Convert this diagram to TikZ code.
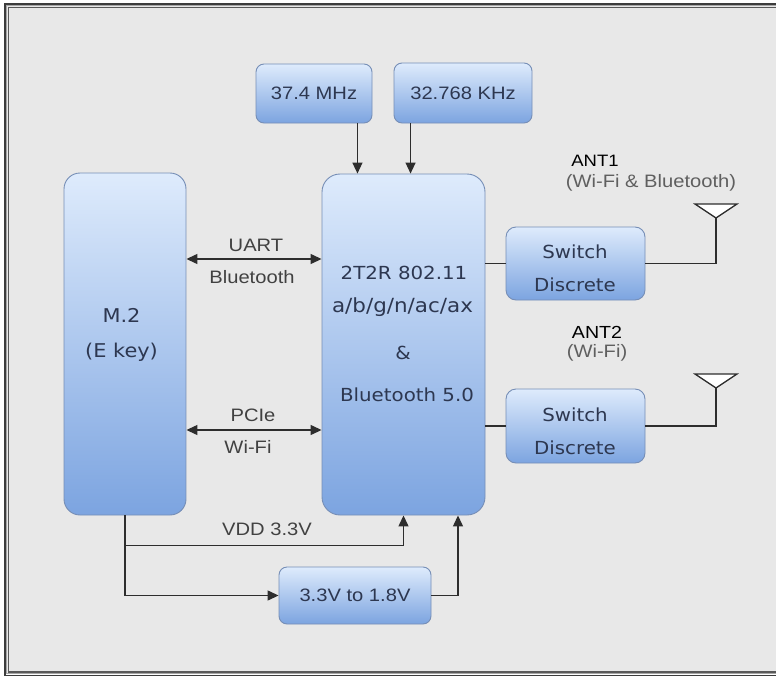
\documentclass[tikz,border=0pt]{standalone}
\usepackage{fontspec}
\newfontfamily\labf[FakeStretch=1.12]{Liberation Sans}
\newfontfamily\boxff[FakeStretch=1.1]{DejaVu Sans}
\usetikzlibrary{arrows.meta}
\definecolor{bg}{RGB}{232,232,232}
\definecolor{btop}{RGB}{222,235,252}
\definecolor{bbot}{RGB}{124,164,224}
\definecolor{bdraw}{RGB}{118,142,182}
\definecolor{btext}{RGB}{45,55,80}
\definecolor{ltext}{RGB}{65,65,65}
\definecolor{ptext}{RGB}{95,95,95}
\definecolor{framec}{RGB}{60,60,60}
\definecolor{linec}{RGB}{45,45,45}
\begin{document}
\begin{tikzpicture}[x=1pt,y=-1pt,
  blk/.style={draw=bdraw, line width=0.9pt, top color=btop, bottom color=bbot, rounded corners=#1, inner sep=0pt},
  blk/.default=8pt,
  boxtxt/.style={font=\boxff\fontsize{18}{33}\selectfont, text=btext, align=center, inner sep=0pt},
  lab/.style={font=\labf\fontsize{18}{22}\selectfont, text=ltext, inner sep=0pt},
  conn/.style={line width=1.3pt, draw=linec},
  arr/.style={conn, -{Triangle[length=11pt,width=10pt]}},
  darr/.style={conn, {Triangle[length=11pt,width=10pt]}-{Triangle[length=11pt,width=10pt]}},
]
\useasboundingbox (0,0) rectangle (776,677);
% background and frame
\fill[white] (0,0) rectangle (776,677);
\fill[bg] (5,5) rectangle (776,674);
\draw[framec, line width=1.6pt] (776,3.8) -- (5,3.8) -- (5,675.6) -- (776,675.6);
\draw[black!35, line width=1.2pt] (776,5.8) -- (6.8,5.8) -- (6.8,673.8) -- (776,673.8);
\draw[framec!85, line width=1.2pt] (776,7.6) -- (8.4,7.6) -- (8.4,672) -- (776,672);

% blocks
\node[blk=8pt, minimum width=116pt, minimum height=59pt] (f1) at (314,93.5) {};
\node[blk=8pt, minimum width=138pt, minimum height=60pt] (f2) at (463,93) {};
\node[blk=18pt, minimum width=163pt, minimum height=341pt] (main) at (403.5,344.5) {};
\node[blk=16pt, minimum width=122pt, minimum height=342pt] (m2) at (125,344) {};
\node[blk=10pt, minimum width=139pt, minimum height=73pt] (sw1) at (575.5,263.5) {};
\node[blk=10pt, minimum width=139pt, minimum height=74pt] (sw2) at (575.5,426) {};
\node[blk=8pt, minimum width=152pt, minimum height=57pt] (reg) at (355,595.5) {};

% block texts
\node[lab, text=btext] (f1t) at (f1) {37.4 MHz};
\node[lab, text=btext] (f2t) at (f2) {32.768 KHz};
\node[lab, text=btext] (regt) at (reg) {3.3V to 1.8V};
\node[boxtxt] (sw1t) at (575,268.5) {Switch\\Discrete};
\node[boxtxt] (sw2t) at (575,431) {Switch\\Discrete};
\node[boxtxt, font=\boxff\fontsize{19}{35}\selectfont] (m2t) at (121.5,334.5) {M.2\\(E key)};
\node[boxtxt] (mt1) at (404,273) {2T2R 802.11};
\node[boxtxt, font=\boxff\fontsize{19.5}{24}\selectfont] (mt2) at (402.5,307) {a/b/g/n/ac/ax};
\node[boxtxt] (mt3) at (403,353) {\&};
\node[boxtxt] (mt4) at (407,395) {Bluetooth 5.0};

% clock arrows
\draw[arr] ([xshift=-15pt]f1.south east) -- ([xshift=-15pt]f1.south east |- main.north);
\draw[arr] ([xshift=17pt]f2.south west) -- ([xshift=17pt]f2.south west |- main.north);

% host interfaces
\draw[darr] ([yshift=85pt]m2.east) -- ([yshift=85pt]m2.east -| main.west);
\draw[darr] ([yshift=-86pt]m2.east) -- ([yshift=-86pt]m2.east -| main.west);
\node[lab] (uart) at (256,245) {UART};
\node[lab] (btl) at (252,277) {Bluetooth};
\node[lab] (pcie) at (253,415) {PCIe};
\node[lab] (wifil) at (248,447) {Wi-Fi};

% RF paths
\coordinate (a1) at (716,218);
\coordinate (a2) at (716,388);
\draw[conn] (main.east |- sw1.west) -- (sw1.west);
\draw[conn] (main.east |- sw2.west) -- (sw2.west);
\draw[conn] (sw1.east) -| (a1);
\draw[conn] (sw2.east) -| (a2);
\draw[conn, fill=white, line join=miter] (695,204) -- (737,204) -- (a1) -- cycle;
\draw[conn, fill=white, line join=miter] (695,374) -- (737,374) -- (a2) -- cycle;
\node[lab, text=black, font=\labf\fontsize{16.5}{20}\selectfont] (ant1) at (595,161) {ANT1};
\node[lab, text=ptext] (ant1d) at (651,183) {(Wi-Fi \& Bluetooth)};
\node[lab, text=black, font=\labf\fontsize{17.5}{20}\selectfont] (ant2) at (597,332) {ANT2};
\node[lab, text=ptext] (ant2d) at (597,353) {(Wi-Fi)};

% power
\draw[arr] (m2.south) -- ++(0,30) -| (main.south);
\draw[arr] (m2.south) |- (reg.west);
\draw[arr] (reg.east) -| ([xshift=54.5pt]main.south);
\node[lab] (vdd) at (267,529) {VDD 3.3V};
\end{tikzpicture}
\end{document}
